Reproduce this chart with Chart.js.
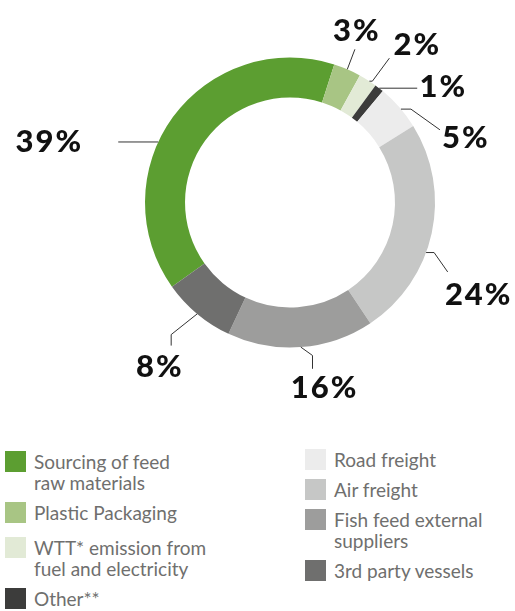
<!DOCTYPE html>
<html>
<head>
<meta charset="utf-8">
<script src="https://cdn.jsdelivr.net/npm/chart.js@4/dist/chart.umd.min.js"></script>
<style>
  body { margin: 0; background: #fff; }
  #wrap { position: relative; width: 515px; height: 611px; overflow: hidden; }
  #donut { position: absolute; left: 0; top: 0; }
  .legend-col { position: absolute; display: flex; flex-direction: column; }
  .legend-item { display: flex; align-items: flex-start; margin-bottom: 9px; }
  .legend-item .box { width: 21px; height: 21px; flex: none; margin-right: 8px; }
  .legend-item .txt { font-family: Lato, "Noto Sans", sans-serif; font-size: 19px; line-height: 21px; color: #6f6f6e; }
  #legendLeft { left: 5px; top: 451px; }
  #legendRight { left: 305px; top: 449px; }
  #legendLeft .legend-item:nth-child(2) { margin-bottom: 14px; }
</style>
</head>
<body>
<div id="wrap">
  <canvas id="donut" width="515" height="420"></canvas>
  <div class="legend-col" id="legendLeft"></div>
  <div class="legend-col" id="legendRight"></div>
</div>
<script>
const categories = [
  ['Sourcing of feed', 'raw materials'],
  ['Plastic Packaging'],
  ['WTT* emission from', 'fuel and electricity'],
  ['Other**'],
  ['Road freight'],
  ['Air freight'],
  ['Fish feed external', 'suppliers'],
  ['3rd party vessels']
];
const shares = [39, 3, 2, 1, 5, 24, 16, 8];
const colors = ['#5c9e31', '#a8c584', '#e2ead6', '#3c3c3b', '#ececec', '#c6c7c6', '#9d9d9c', '#6f6f6e'];

// leader lines: where on the arc they start (0..1), bends relative to that point, text centre relative to the last bend
const leaders = [
  { at: 0.42, path: [[-40, 0]], text: [-70, -1] },
  { at: 0.5, path: [[7.6, -20]], text: [1, -19] },
  { at: 0.6, path: [[3, 0], [20, -23]], text: [27, -14] },
  { at: 0.5, path: [[38, 0]], text: [25, -2.5] },
  { at: 0.55, path: [[10, 0], [39, 20.7]], text: [25, 7] },
  { at: 0.59, path: [[8, 0], [21.6, 19.4]], text: [30, 21.6] },
  { at: 0.5, path: [[11.7, 8.4], [11.7, 21.7]], text: [11, 18] },
  { at: 0.5, path: [[-26, 20.7], [-26, 31.7]], text: [-12.4, 20] }
];

const labelFontSize = 31;

const leaderLabels = {
  id: 'leaderLabels',
  afterDatasetsDraw(chart) {
    const ctx = chart.ctx;
    const meta = chart.getDatasetMeta(0);
    meta.data.forEach((arc, i) => {
      const p = arc.getProps(['x', 'y', 'startAngle', 'endAngle', 'outerRadius'], true);
      const l = leaders[i];
      const a = p.startAngle + (p.endAngle - p.startAngle) * l.at;
      const ax = p.x + Math.cos(a) * p.outerRadius;
      const ay = p.y + Math.sin(a) * p.outerRadius;
      ctx.save();
      ctx.strokeStyle = '#333';
      ctx.lineWidth = 1;
      ctx.beginPath();
      ctx.moveTo(ax, ay);
      l.path.forEach(pt => ctx.lineTo(ax + pt[0], ay + pt[1]));
      ctx.stroke();
      const last = l.path[l.path.length - 1];
      const tx = ax + last[0] + l.text[0];
      const ty = ay + last[1] + l.text[1];
      ctx.fillStyle = '#111';
      ctx.font = '900 ' + labelFontSize + 'px Lato, "Noto Sans", sans-serif';
      ctx.letterSpacing = '2px';
      ctx.textAlign = 'center';
      ctx.textBaseline = 'alphabetic';
      ctx.fillText(chart.data.datasets[0].data[i] + '%', tx + 1, ty + labelFontSize * 0.36);
      ctx.restore();
    });
  }
};

const donut = new Chart(document.getElementById('donut'), {
  type: 'doughnut',
  data: {
    labels: categories.map(c => c.join(' ')),
    datasets: [{
      data: shares,
      backgroundColor: colors,
      borderWidth: 0
    }]
  },
  options: {
    responsive: false,
    animation: false,
    rotation: -125.5,
    cutout: '72.4%',
    layout: { padding: { left: 145, right: 80, top: 57.5, bottom: 72.5 } },
    plugins: {
      legend: { display: false },
      tooltip: { enabled: false }
    }
  },
  plugins: [leaderLabels]
});

// two-column legend built from the chart data
function legendItem(i) {
  const item = document.createElement('div');
  item.className = 'legend-item';
  const box = document.createElement('div');
  box.className = 'box';
  box.style.background = donut.data.datasets[0].backgroundColor[i];
  const txt = document.createElement('div');
  txt.className = 'txt';
  txt.innerHTML = categories[i].join('<br>');
  item.appendChild(box);
  item.appendChild(txt);
  return item;
}
const leftCol = document.getElementById('legendLeft');
const rightCol = document.getElementById('legendRight');
categories.forEach((c, i) => {
  (i < 4 ? leftCol : rightCol).appendChild(legendItem(i));
});
</script>
</body>
</html>
